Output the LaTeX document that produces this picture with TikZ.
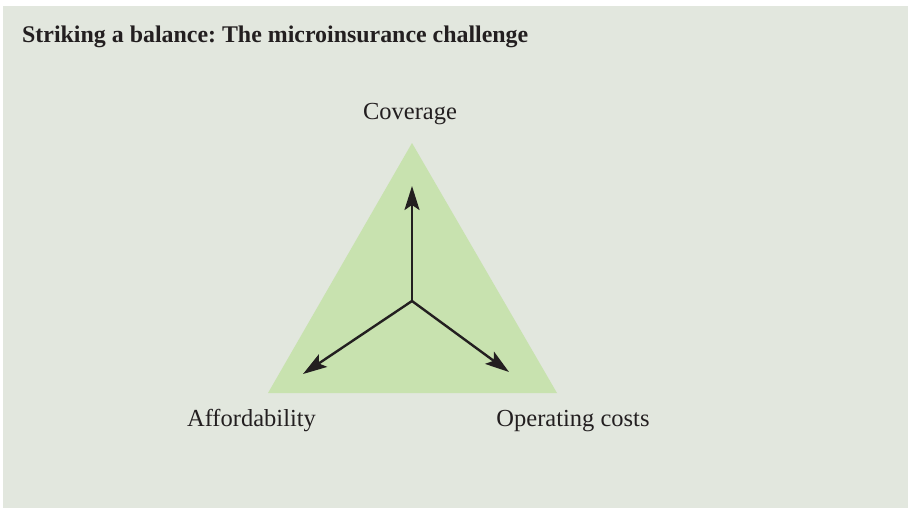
\documentclass[tikz,border=0pt]{standalone}
\usepackage{fontspec}
\setmainfont{Liberation Serif}
\usetikzlibrary{arrows.meta}
\definecolor{bgcol}{HTML}{E2E7DE}
\definecolor{tricol}{HTML}{C8E2AF}
\definecolor{inkcol}{HTML}{231F20}
\frenchspacing
\tikzset{
  lbl/.style={anchor=base, text=inkcol, inner sep=0pt, font=\fontsize{24.5}{28}\selectfont},
  ttl/.style={anchor=base west, text=inkcol, inner sep=0pt, font=\fontsize{23.9}{28}\selectfont\bfseries},
  axis/.style={draw=inkcol, line width=2.4pt, -{Stealth[length=24pt, width=15pt, inset=5pt]}}
}
\begin{document}
\begin{tikzpicture}[x=1pt,y=-1pt]
\useasboundingbox (0,0) rectangle (910,509);
\fill[white] (0,0) rectangle (910,509);
\fill[bgcol] (3,6) rectangle (908,508);
\coordinate (apex) at (412,143);
\coordinate (bl) at (268,393);
\coordinate (br) at (557,393);
\fill[tricol] (apex) -- (bl) -- (br) -- cycle;
\coordinate (c) at (412,301);
\coordinate (tu) at (412,186);
\coordinate (tl) at (303,374);
\coordinate (tr) at (509,372);
\draw[axis] (c) -- (tu);
\draw[axis] (c) -- (tl);
\draw[axis] (c) -- (tr);
\node[ttl] (title) at (22,42) {Striking a balance: The microinsurance challenge};
\node[lbl] (cov) at (410,119) {Coverage};
\node[lbl] (aff) at (251.5,426) {Affordability};
\node[lbl] (opc) at (573,426) {Operating costs};
\end{tikzpicture}
\end{document}
